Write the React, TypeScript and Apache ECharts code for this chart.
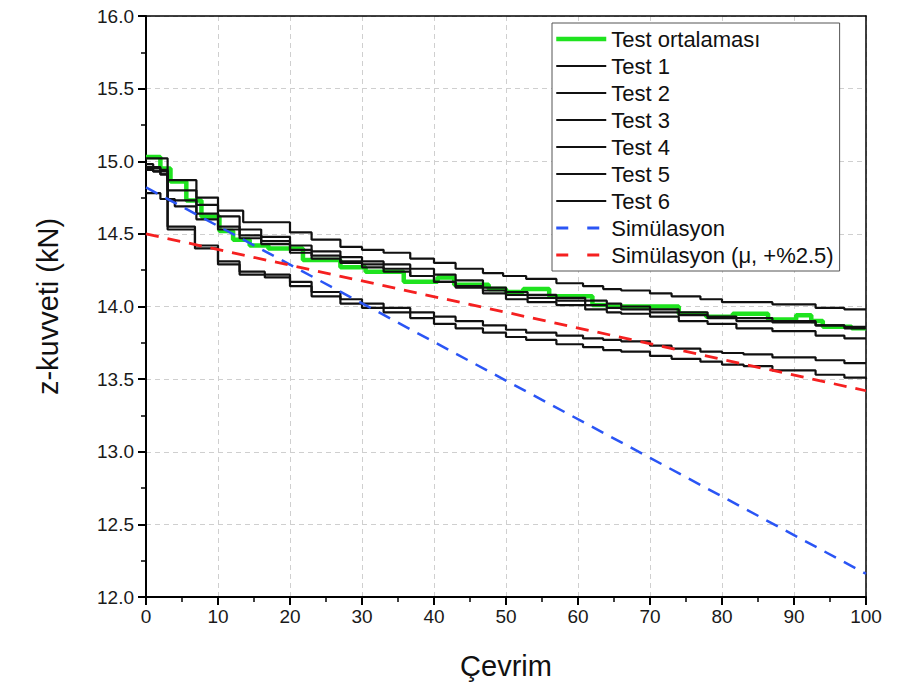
import React, { useEffect, useRef } from "react";
import * as echarts from "echarts";

// Cycle axis and force axis ranges / ticks
const cycleTicks = [0, 10, 20, 30, 40, 50, 60, 70, 80, 90, 100];
const forceTicks = [12.0, 12.5, 13.0, 13.5, 14.0, 14.5, 15.0, 15.5, 16.0];

// Measured z-force curves: [cycle, kN] breakpoints, value held until the next breakpoint
const testAverage: [number, number][] = [
  [0, 15.03], [2, 14.95], [3.4, 14.86], [5.6, 14.73], [7.7, 14.62], [10.2, 14.52],
  [12.1, 14.46], [14.4, 14.42], [17, 14.4], [21.8, 14.32], [27, 14.27], [30.5, 14.24],
  [35.8, 14.17], [40.5, 14.2], [42.8, 14.15], [47.6, 14.12], [50, 14.1], [52.4, 14.12],
  [56, 14.07], [62, 14.01], [64, 14.0], [74, 13.95], [77.8, 13.93], [81.5, 13.95],
  [86.4, 13.91], [90.3, 13.94], [92.4, 13.9], [94, 13.86], [98, 13.85], [100, 13.85],
];

const test1: [number, number][] = [
  [0, 15.02], [3, 14.55], [6.8, 14.42], [10, 14.31], [13, 14.24], [16.5, 14.22],
  [20, 14.17], [23, 14.1], [27, 14.05], [30, 14.02], [33, 13.99], [36.7, 13.96],
  [40, 13.93], [43, 13.9], [46.8, 13.87], [50, 13.84], [52.8, 13.82], [57, 13.8],
  [60.7, 13.78], [63.5, 13.77], [66, 13.76], [70, 13.73], [73, 13.71], [77, 13.69],
  [80, 13.68], [83, 13.67], [87, 13.65], [93, 13.63], [97, 13.61], [100, 13.61],
];

const test2: [number, number][] = [
  [0, 14.94], [1, 14.93], [2, 14.91], [3, 14.53], [6.8, 14.4], [10, 14.29],
  [13, 14.22], [16.5, 14.2], [20, 14.14], [23, 14.07], [27, 14.02], [30, 13.99],
  [33, 13.96], [36.7, 13.92], [40, 13.88], [43, 13.85], [46.8, 13.82], [50, 13.79],
  [52.8, 13.77], [57, 13.74], [60.7, 13.72], [63.5, 13.7], [66, 13.69], [70, 13.66],
  [73, 13.64], [77, 13.62], [80, 13.6], [83, 13.59], [87, 13.56], [93, 13.53],
  [97, 13.51], [100, 13.5],
];

const test3: [number, number][] = [
  [0, 14.98], [1, 14.96], [2, 14.94], [3, 14.87], [7, 14.75], [10, 14.66],
  [13.5, 14.58], [20, 14.51], [23, 14.46], [27, 14.41], [30, 14.39], [33, 14.37],
  [36.7, 14.33], [40, 14.3], [43, 14.26], [46.8, 14.23], [49.6, 14.21], [52.8, 14.19],
  [57, 14.16], [60.7, 14.14], [63.5, 14.12], [66, 14.11], [70, 14.09], [73, 14.07],
  [77, 14.05], [80, 14.03], [87, 14.015], [93, 13.99], [97, 13.98], [100, 13.98],
];

const test4: [number, number][] = [
  [0, 14.96], [1, 14.95], [2, 14.93], [3, 14.8], [7, 14.7], [10, 14.62],
  [13, 14.53], [16, 14.48], [20, 14.42], [23, 14.38], [27, 14.34], [30, 14.31],
  [33, 14.29], [36.7, 14.26], [40, 14.22], [43, 14.18], [46.8, 14.13], [50, 14.1],
  [53, 14.08], [57, 14.06], [61, 14.04], [64, 14.02], [66, 14.0], [70, 13.98],
  [74, 13.96], [78, 13.93], [82, 13.92], [87, 13.9], [93, 13.87], [97, 13.85],
  [100, 13.85],
];

const test5: [number, number][] = [
  [0, 14.95], [1, 14.93], [2, 14.91], [3, 14.73], [7, 14.64], [10, 14.55],
  [13, 14.49], [16, 14.45], [20, 14.39], [23, 14.35], [27, 14.31], [30, 14.29],
  [33, 14.26], [36.7, 14.21], [40, 14.17], [43, 14.13], [46.8, 14.09], [50, 14.05],
  [53, 14.03], [57, 14.01], [61, 13.98], [64, 13.96], [66, 13.95], [70, 13.93],
  [74, 13.9], [78, 13.88], [82, 13.85], [87, 13.83], [93, 13.8], [97, 13.78],
  [100, 13.78],
];

const test6: [number, number][] = [
  [0, 14.78], [2, 14.74], [4, 14.69], [7, 14.6], [10, 14.53], [13, 14.47],
  [16, 14.43], [20, 14.37], [23, 14.33], [27, 14.3], [30, 14.27], [33, 14.24],
  [36.7, 14.21], [40, 14.17], [43, 14.14], [46.8, 14.11], [50, 14.08], [53, 14.06],
  [57, 14.04], [61, 14.01], [64, 13.99], [66, 13.98], [70, 13.96], [74, 13.94],
  [78, 13.92], [82, 13.9], [87, 13.89], [93, 13.87], [97, 13.86], [100, 13.86],
];

// Simulation results (straight lines between start and end cycle)
const simulation: [number, number][] = [[0, 14.82], [100, 12.16]];
const simulationMu: [number, number][] = [[0, 14.5], [100, 13.42]];

const seriesNames = [
  "Test ortalaması", "Test 1", "Test 2", "Test 3", "Test 4", "Test 5", "Test 6",
  "Simülasyon", "Simülasyon (μ, +%2.5)",
];

const FONT = "'Liberation Sans', Arial, Helvetica, sans-serif";

const AVG_COLOR = "#1fe31f";
const TEST_COLOR = "#111";
const SIM_COLOR = "#2a55f5";
const SIM_MU_COLOR = "#f52020";

export default function App() {
  const ref = useRef<HTMLDivElement>(null);

  useEffect(() => {
    if (!ref.current) return;
    const chart = echarts.init(ref.current, undefined, { renderer: "svg" });

    const stepLine = (name: string, data: [number, number][], color: string, width: number, z: number) => ({
      type: "line",
      name,
      data,
      step: "end",
      symbol: "none",
      z,
      silent: true,
      lineStyle: { color, width },
      itemStyle: { color },
    });

    const testSets = [test1, test2, test3, test4, test5, test6];

    // Legend entries with their own sample-line styles
    const legendData = seriesNames.map((name, i) => {
      if (i === 0) return { name, lineStyle: { color: AVG_COLOR, width: 4.5 } };
      if (i === 7) return { name, lineStyle: { color: SIM_COLOR, width: 2.8, type: [12, 19] } };
      if (i === 8) return { name, lineStyle: { color: SIM_MU_COLOR, width: 3, type: [12, 19] } };
      return { name, lineStyle: { color: TEST_COLOR, width: 2 } };
    });

    chart.setOption({
      animation: false,
      backgroundColor: "#fff",
      grid: { left: 146, right: 34, top: 16, bottom: 96 },
      legend: {
        orient: "vertical",
        left: 552,
        top: 23,
        itemWidth: 50,
        itemHeight: 14,
        itemGap: 5,
        padding: [5, 6, 5, 2],
        backgroundColor: "#fff",
        borderColor: "#555",
        borderWidth: 1,
        itemStyle: { opacity: 0 },
        textStyle: { fontSize: 22, color: "#111", fontFamily: FONT },
        data: legendData,
      },
      xAxis: [
        {
          type: "value",
          min: cycleTicks[0],
          max: cycleTicks[cycleTicks.length - 1],
          interval: cycleTicks[1] - cycleTicks[0],
          position: "bottom",
          axisLine: { onZero: false, lineStyle: { color: "#000", width: 2 } },
          axisTick: { show: true, inside: false, length: 8, lineStyle: { color: "#000", width: 2 } },
          minorTick: { show: true, splitNumber: 2, length: 5, lineStyle: { color: "#000", width: 1.5 } },
          axisLabel: { fontSize: 19, color: "#1a1a1a", margin: 10, fontFamily: FONT },
          splitLine: { show: true, lineStyle: { color: "#cfcfcf", type: [5, 4], width: 1 } },
          name: "Çevrim",
          nameLocation: "middle",
          nameGap: 54,
          nameTextStyle: { fontSize: 29, color: "#111", fontFamily: FONT },
        },
        {
          type: "value",
          min: 0,
          max: 100,
          position: "top",
          axisLine: { show: true, onZero: false, lineStyle: { color: "#000", width: 1.5 } },
          axisTick: { show: false },
          axisLabel: { show: false },
          splitLine: { show: false },
        },
      ],
      yAxis: [
        {
          type: "value",
          min: forceTicks[0],
          max: forceTicks[forceTicks.length - 1],
          interval: forceTicks[1] - forceTicks[0],
          position: "left",
          axisLine: { show: true, onZero: false, lineStyle: { color: "#000", width: 2 } },
          axisTick: { show: true, inside: false, length: 8, lineStyle: { color: "#000", width: 2 } },
          minorTick: { show: true, splitNumber: 2, length: 5, lineStyle: { color: "#000", width: 1.5 } },
          axisLabel: {
            fontSize: 19,
            color: "#1a1a1a",
            margin: 12,
            fontFamily: FONT,
            formatter: (v: number) => v.toFixed(1),
          },
          splitLine: { show: true, lineStyle: { color: "#cfcfcf", type: [5, 4], width: 1 } },
          name: "z-kuvveti (kN)",
          nameLocation: "middle",
          nameGap: 84,
          nameTextStyle: { fontSize: 29, color: "#111", fontFamily: FONT },
        },
        {
          type: "value",
          min: 12,
          max: 16,
          position: "right",
          axisLine: { show: true, onZero: false, lineStyle: { color: "#000", width: 1.5 } },
          axisTick: { show: false },
          axisLabel: { show: false },
          splitLine: { show: false },
        },
      ],
      series: [
        stepLine(seriesNames[0], testAverage, AVG_COLOR, 4.5, 2),
        ...testSets.map((d, i) => stepLine(seriesNames[i + 1], d, TEST_COLOR, 2.2, 3)),
        {
          type: "line",
          name: seriesNames[7],
          data: simulation,
          symbol: "none",
          z: 4,
          silent: true,
          lineStyle: { color: SIM_COLOR, width: 2.5, type: [13, 9] },
          itemStyle: { color: SIM_COLOR },
        },
        {
          type: "line",
          name: seriesNames[8],
          data: simulationMu,
          symbol: "none",
          z: 4,
          silent: true,
          lineStyle: { color: SIM_MU_COLOR, width: 2.8, type: [13, 9] },
          itemStyle: { color: SIM_MU_COLOR },
        },
      ],
    });

    return () => chart.dispose();
  }, []);

  return (
    <div style={{ position: "fixed", left: 0, top: 0, width: 900, height: 693, background: "#fff" }}>
      <div ref={ref} style={{ width: 900, height: 693 }} />
    </div>
  );
}
